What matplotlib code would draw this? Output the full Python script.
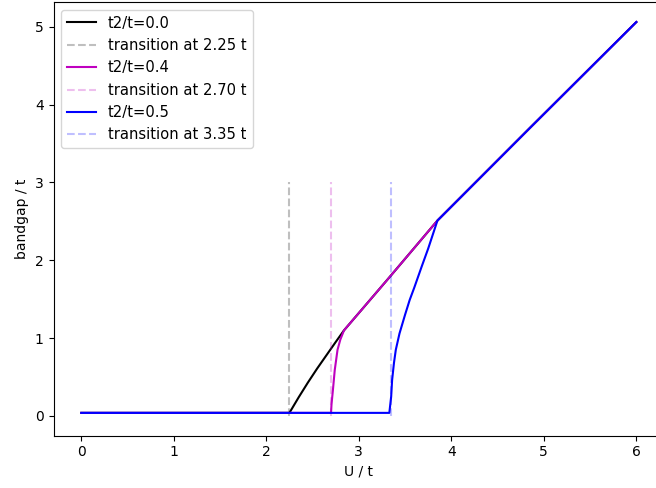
import matplotlib
matplotlib.use("Agg")
import matplotlib.pyplot as plt

# bandgap vs U for three values of t2/t
U_00 = [0, 2.25, 2.35, 2.45, 2.55, 2.65, 2.75, 2.84, 3.33, 3.85, 4.85, 6.0]
gap_00 = [0.04, 0.04, 0.24, 0.43, 0.61, 0.78, 0.95, 1.10, 1.78, 2.51, 3.70, 5.06]

U_04 = [0, 2.70, 2.705, 2.72, 2.74, 2.77, 2.80, 2.84, 3.33, 3.85, 4.85, 6.0]
gap_04 = [0.04, 0.04, 0.15, 0.33, 0.59, 0.85, 0.98, 1.10, 1.78, 2.51, 3.70, 5.06]

U_05 = [0, 3.33, 3.35, 3.36, 3.38, 3.40, 3.44, 3.50, 3.55, 3.60, 3.68, 3.75, 3.85, 4.85, 6.0]
gap_05 = [0.04, 0.04, 0.25, 0.46, 0.68, 0.85, 1.06, 1.30, 1.49, 1.65, 1.92, 2.15, 2.51, 3.70, 5.06]

t2 = [0.0, 0.4, 0.5]
U_c = [2.25, 2.70, 3.35]
colors = ['k', 'm', 'b']

fig = plt.figure(figsize=(6.56, 4.88), dpi=100)
ax = fig.add_axes([0.0816, 0.1072, 0.9307, 0.888])

for U, gap, tt, uc, c in zip([U_00, U_04, U_05], [gap_00, gap_04, gap_05], t2, U_c, colors):
    ax.plot(U, gap, color=c, label='t2/t=%.1f' % tt)
    ax.vlines(uc, 0, 3, color=c, linestyle='--', alpha=0.25, label='transition at %.2f t' % uc)

ax.set_xlabel('U / t')
ax.set_ylabel('bandgap / t')
ax.legend(loc='upper left', fontsize=10.6)
fig.savefig('out.png', dpi=100)
